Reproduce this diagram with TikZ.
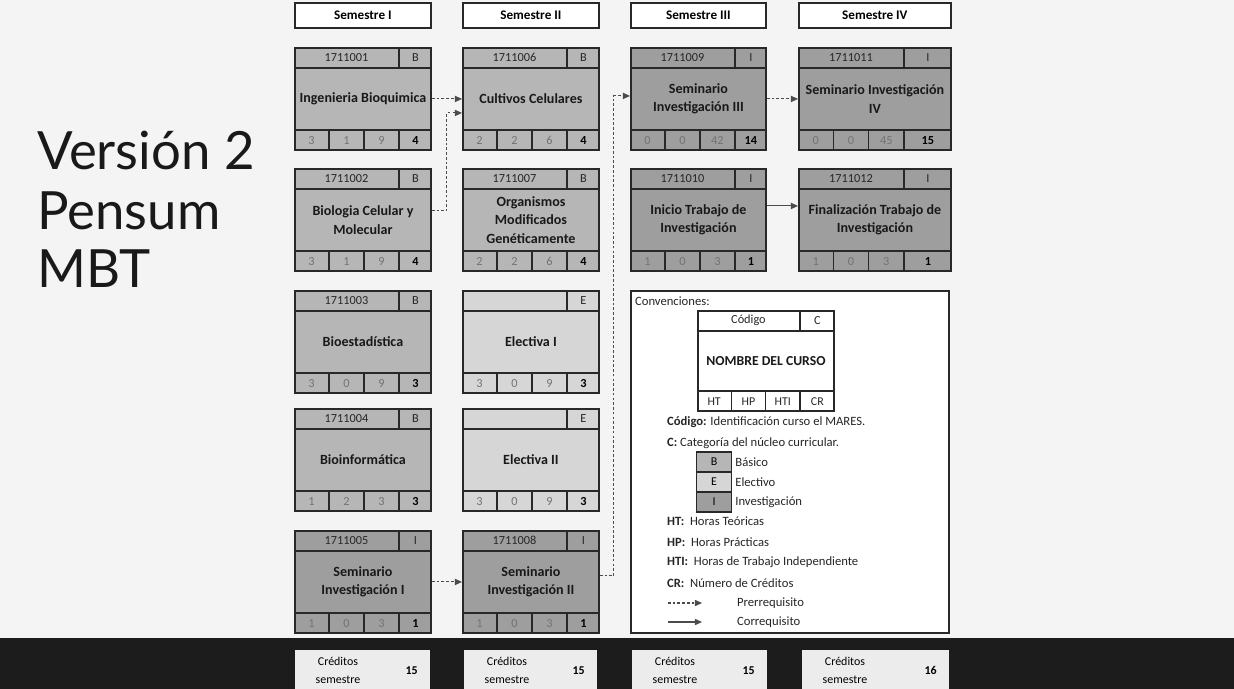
\documentclass[tikz,border=0pt]{standalone}
\usepackage{fontspec}
\setmainfont{Carlito}
\newfontfamily\titlefont{Lato}
\usetikzlibrary{arrows.meta,positioning,calc}
\definecolor{paper}{RGB}{244,244,244}
\definecolor{band}{RGB}{28,28,28}
\definecolor{boxline}{RGB}{40,40,40}
\definecolor{basgray}{RGB}{182,182,182}
\definecolor{elegray}{RGB}{214,214,214}
\definecolor{invgray}{RGB}{158,158,158}
\definecolor{credfill}{RGB}{236,236,236}

\tikzset{
  course/.style={draw=boxline,line width=1.1pt,minimum height=2.04cm,inner sep=1pt,align=center,
    font=\fontsize{8}{10.5}\selectfont\bfseries,text=black!90},
  catB/.style={fill=basgray},
  catE/.style={fill=elegray},
  catI/.style={fill=invgray},
  catC/.style={fill=white},
  cell/.style={draw=boxline,line width=0.8pt},
  codetext/.style={font=\fontsize{7}{8}\selectfont,text=black!85,inner sep=0pt},
  numtext/.style={font=\fontsize{7}{8}\selectfont,text=black!55,inner sep=0pt},
  crtext/.style={font=\fontsize{7}{8}\selectfont\bfseries,text=black,inner sep=0pt},
  semhead/.style={draw=boxline,fill=white,line width=1pt,minimum width=2.72cm,minimum height=0.5cm,
    anchor=north west,font=\fontsize{7.5}{8}\selectfont\bfseries},
  prereq/.style={-{Triangle[length=4pt,width=3.5pt]},draw=black!70,line width=0.6pt,dash pattern=on 1.5pt off 1.2pt},
  coreq/.style={-{Triangle[length=4pt,width=3.5pt]},draw=black!70,line width=0.6pt},
  legbox/.style={draw=boxline,fill=white,line width=1.2pt,anchor=north west,minimum width=6.36cm,minimum height=6.84cm},
  legtext/.style={font=\fontsize{7.2}{8}\selectfont,text=black!85,inner sep=1pt},
  swatch/.style={draw=boxline,line width=0.8pt,minimum width=0.7cm,minimum height=0.4cm,inner sep=0pt,outer sep=0pt,
    font=\fontsize{6.8}{8}\selectfont},
  titletext/.style={font=\titlefont\fontsize{30}{34}\selectfont,text=black!90,inner sep=0pt},
  credbox/.style={fill=credfill,anchor=north west,minimum height=0.8cm},
  credtext/.style={font=\fontsize{6.8}{10}\selectfont,align=center,inner sep=0pt}
}

% #1 nombre, #2 esquina, #3 ancho, #4 ancho categoria, #5 codigo, #6 categoria, #7 curso, #8 HT,HP,HTI, #9 CR
\newcommand{\course}[9]{%
  \node[course,cat#6,minimum width=#3cm,anchor=north west] (#1) at (#2) {#7};
  \coordinate (#1-k) at ([xshift=-#4cm]#1.north east);
  \coordinate (#1-kb) at (#1.south west -| #1-k);
  \coordinate (#1-tl) at ([yshift=-0.42cm]#1.north west);
  \coordinate (#1-tr) at ([yshift=-0.42cm]#1.north east);
  \coordinate (#1-bl) at ([yshift=0.42cm]#1.south west);
  \coordinate (#1-br) at ([yshift=0.42cm]#1.south east);
  \draw[cell] (#1-tl) -- (#1-tr) (#1-bl) -- (#1-br) (#1-k) -- (#1-k |- #1-tl);
  \draw[cell] ($(#1.south west)!1/3!(#1-kb)$) -- ++(0,0.42cm)
              ($(#1.south west)!2/3!(#1-kb)$) -- ++(0,0.42cm)
              (#1-kb) -- ++(0,0.42cm);
  \node[codetext] at ($(#1.north west)!0.5!(#1-k |- #1-tl)$) {#5};
  \node[codetext] at ($(#1-k)!0.5!(#1-tr)$) {#6};
  \foreach \v [count=\i] in {#8} {
    \node[numtext] at ($(#1.south west)!{(2*\i-1)/6}!(#1-kb)+(0,0.21cm)$) {\v};
  }
  \node[crtext] at ($(#1-kb)!0.5!(#1.south east)+(0,0.21cm)$) {#9};
}

\begin{document}
\begin{tikzpicture}[x=0.02cm,y=-0.02cm]
  \useasboundingbox (0,0) rectangle (1234,689);
  \fill[paper] (0,0) rectangle (1234,689);
  \fill[band] (0,638) rectangle (1234,689);

  % titulo
  \node[titletext,anchor=base west] (tv) at (37,170) {Versión 2};
  \node[titletext,anchor=base west] (tp) at (37,230) {Pensum};
  \node[titletext,anchor=base west] (tm) at (37,288) {MBT};

  % semestres
  \node[semhead] (s1) at (294,2) {Semestre I};
  \node[semhead] (s2) at (462,2) {Semestre II};
  \node[semhead,minimum width=2.7cm] (s3) at (630,2) {Semestre III};
  \node[semhead,minimum width=3.04cm] (s4) at (798,2) {Semestre IV};

  % cursos
  \course{ib}{294,47}{2.72}{0.66}{1711001}{B}{Ingenieria Bioquimica}{3,1,9}{4}
  \course{bcm}{294,168}{2.72}{0.66}{1711002}{B}{Biologia Celular y\\Molecular}{3,1,9}{4}
  \course{bes}{294,290}{2.72}{0.66}{1711003}{B}{Bioestadística}{3,0,9}{3}
  \course{bin}{294,408}{2.72}{0.66}{1711004}{B}{Bioinformática}{1,2,3}{3}
  \course{si1}{294,530}{2.72}{0.66}{1711005}{I}{Seminario\\Investigación I}{1,0,3}{1}
  \course{cc}{462,47}{2.72}{0.66}{1711006}{B}{Cultivos Celulares}{2,2,6}{4}
  \course{omg}{462,168}{2.72}{0.66}{1711007}{B}{Organismos\\Modificados\\Genéticamente}{2,2,6}{4}
  \course{el1}{462,290}{2.72}{0.66}{}{E}{Electiva I}{3,0,9}{3}
  \course{el2}{462,408}{2.72}{0.66}{}{E}{Electiva II}{3,0,9}{3}
  \course{si2}{462,530}{2.72}{0.66}{1711008}{I}{Seminario\\Investigación II}{1,0,3}{1}
  \course{si3}{630,47}{2.70}{0.64}{1711009}{I}{Seminario\\Investigación III}{0,0,42}{14}
  \course{itr}{630,168}{2.70}{0.64}{1711010}{I}{Inicio Trabajo de\\Investigación}{1,0,3}{1}
  \course{si4}{798,47}{3.04}{0.96}{1711011}{I}{Seminario Investigación\\IV}{0,0,45}{15}
  \course{ftr}{798,168}{3.04}{0.96}{1711012}{I}{Finalización Trabajo de\\Investigación}{1,0,3}{1}

  % requisitos
  \draw[prereq] (ib.east) -- (cc.west);
  \draw[prereq] ([yshift=0.18cm]bcm.east) -- ++(0.3cm,0) |- ([yshift=-0.28cm]cc.west);
  \draw[prereq] (si1.east) -- (si2.west);
  \draw[prereq] ([yshift=0.12cm]si2.east) -- ++(0.28cm,0) |- ([yshift=0.06cm]si3.west);
  \draw[prereq] (si3.east) -- (si4.west);
  \draw[coreq] ([yshift=0.28cm]itr.east) -- ([yshift=0.28cm]ftr.west);

  % convenciones
  \node[legbox] (leg) at (630,290) {};
  \node[legtext,anchor=west] (conv) at (633,301) {Convenciones:};
  \begin{scope}[course/.append style={minimum height=2cm,font=\fontsize{7.8}{9}\selectfont\bfseries},
      numtext/.style={font=\fontsize{6.8}{8}\selectfont,text=black!85,inner sep=0pt},
      crtext/.style={font=\fontsize{6.8}{8}\selectfont,text=black!85,inner sep=0pt}]
    \course{smp}{697,310}{2.72}{0.7}{Código}{C}{NOMBRE DEL CURSO}{HT,HP,HTI}{CR}
  \end{scope}
  \node[legtext,anchor=west] (lcod) at (665,422) {\textbf{Código:} Identificación curso el MARES.};
  \node[legtext,anchor=west] (lcat) at (665,443) {\textbf{C:} Categoría del núcleo curricular.};
  \node[swatch,catB] (swB) at (714,462) {B};
  \node[swatch,catE,below=0pt of swB] (swE) {E};
  \node[swatch,catI,below=0pt of swE] (swI) {I};
  \node[legtext,right=1pt of swB] (lB) {Básico};
  \node[legtext,right=1pt of swE] (lE) {Electivo};
  \node[legtext,right=1pt of swI] (lI) {Investigación};
  \node[legtext,anchor=west] (lht) at (665,521) {\textbf{HT:}\ \ Horas Teóricas};
  \node[legtext,anchor=west] (lhp) at (665,542) {\textbf{HP:}\ \ Horas Prácticas};
  \node[legtext,anchor=west] (lhti) at (665,562) {\textbf{HTI:}\ \ Horas de Trabajo Independiente};
  \node[legtext,anchor=west] (lcr) at (665,583) {\textbf{CR:}\ \ Número de Créditos};
  \coordinate (pa) at (668,603);
  \coordinate (pb) at (702,603);
  \draw[prereq] (pa) -- (pb);
  \node[legtext,anchor=west] (lpre) at (735,603) {Prerrequisito};
  \coordinate (ca) at (668,622);
  \coordinate (cb) at (702,622);
  \draw[coreq] (ca) -- (cb);
  \node[legtext,anchor=west] (lco) at (735,622) {Correquisito};

  % creditos por semestre
  \foreach \x/\w/\n [count=\k] in {295/2.7/15,464/2.66/15,632/2.7/15,802/2.94/16} {
    \node[credbox,minimum width=\w cm] (cr\k) at (\x,650) {};
    \node[credtext] (crt\k) at ([xshift=0.86cm]cr\k.west) {Créditos\\semestre};
    \node[credtext,font=\fontsize{6.8}{10}\selectfont\bfseries] (crn\k) at ([xshift=-0.38cm]cr\k.east) {\n};
  }
\end{tikzpicture}
\end{document}
